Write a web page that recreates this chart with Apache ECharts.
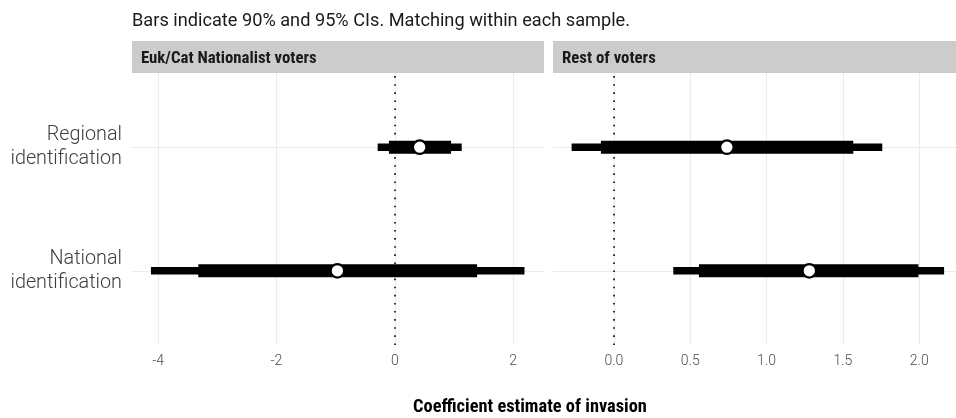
<!DOCTYPE html>
<html>
<head>
<meta charset="utf-8">
<script src="https://cdn.jsdelivr.net/npm/echarts@6/dist/echarts.min.js"></script>
<style>
html,body{margin:0;padding:0;background:#fff;}
#chart{width:956px;height:418px;}
</style>
</head>
<body>
<div id="chart"></div>
<script>
// ---- data ----
const categories = ['Regional\nidentification', 'National\nidentification'];
const panels = ['Euk/Cat Nationalist voters', 'Rest of voters'];
const subtitle = 'Bars indicate 90% and 95% CIs. Matching within each sample.';
const xTitle = 'Coefficient estimate of invasion';

// Panel 1: Euk/Cat Nationalist voters (order follows categories)
const natEst  = [0.42, -0.97];
const natLo90 = [-0.10, -3.32];
const natHi90 = [0.95, 1.39];
const natLo95 = [-0.29, -4.12];
const natHi95 = [1.13, 2.19];

// Panel 2: Rest of voters
const restEst  = [0.74, 1.28];
const restLo90 = [-0.085, 0.557];
const restHi90 = [1.568, 1.995];
const restLo95 = [-0.277, 0.389];
const restHi95 = [1.758, 2.163];

const leftTicks = [-4, -2, 0, 2];
const rightTicks = [0, 0.5, 1.0, 1.5, 2.0];

// ---- build ----
const NARROW = '"Liberation Sans Narrow", "Roboto Condensed", Roboto, sans-serif';
const BODY = 'Roboto, "Noto Sans", sans-serif';
const rowPos = categories.map((c, i) => categories.length - i); // 2 = top row, 1 = bottom row

function rangeData(lo, hi) {
  return lo.map((v, i) => [v, hi[i], rowPos[i]]);
}
function pointData(est) {
  return est.map((v, i) => [v, rowPos[i]]);
}
function rangeSeries(idx, data, thickness) {
  return {
    type: 'custom', xAxisIndex: idx, yAxisIndex: idx, data: data, z: 3,
    encode: { x: [0, 1], y: 2 },
    renderItem: function (params, api) {
      const p1 = api.coord([api.value(0), api.value(2)]);
      const p2 = api.coord([api.value(1), api.value(2)]);
      return {
        type: 'rect',
        shape: { x: p1[0], y: p1[1] - thickness / 2, width: p2[0] - p1[0], height: thickness },
        style: { fill: '#000' }
      };
    }
  };
}
function pointSeries(idx, data) {
  return {
    type: 'scatter', xAxisIndex: idx, yAxisIndex: idx, data: data, z: 5,
    symbol: 'circle', symbolSize: 13.5,
    itemStyle: { color: '#fff', borderColor: '#000', borderWidth: 2.2, opacity: 1 }
  };
}
function zeroLine(idx) {
  return {
    type: 'line', xAxisIndex: idx, yAxisIndex: idx, data: [], z: 2,
    markLine: {
      silent: true, symbol: 'none', animation: false, z: 2,
      label: { show: false },
      lineStyle: { color: '#000', width: 1.6, type: [1.6, 6.5], opacity: 1 },
      data: [{ xAxis: 0 }]
    }
  };
}
function rowLines(idx) {
  return {
    type: 'line', xAxisIndex: idx, yAxisIndex: idx, data: [], z: 1,
    markLine: {
      silent: true, symbol: 'none', animation: false, z: 1,
      label: { show: false },
      lineStyle: { color: '#ebebeb', width: 1.1, type: 'solid', opacity: 1 },
      data: rowPos.map(r => ({ yAxis: r }))
    }
  };
}

const xAxisCommon = {
  type: 'value',
  axisLine: { show: false },
  axisTick: { show: false },
  splitLine: { show: true, lineStyle: { color: '#ebebeb', width: 1.1 } },
  axisLabel: { color: '#4d4d4d', fontSize: 14, fontFamily: BODY, fontWeight: 300, margin: 9, hideOverlap: false }
};

const option = {
  animation: false,
  backgroundColor: '#fff',
  title: [
    { text: subtitle, left: 132, top: 12, padding: 0,
      textStyle: { fontFamily: BODY, fontSize: 18.2, fontWeight: 'normal', color: '#1a1a1a' } },
    { text: xTitle, left: 530, top: 398, padding: 0, textAlign: 'center',
      textStyle: { fontFamily: NARROW, fontSize: 18.4, fontWeight: 'bold', color: '#000' } }
  ],
  graphic: [
    { type: 'rect', left: 132, top: 41, shape: { width: 412, height: 32 }, style: { fill: '#cccccc' }, z: 0 },
    { type: 'rect', left: 553, top: 41, shape: { width: 403, height: 32 }, style: { fill: '#cccccc' }, z: 0 },
    { type: 'text', left: 141, top: 50, style: { text: panels[0], font: 'bold 16.8px ' + NARROW, fill: '#1a1a1a' }, z: 1 },
    { type: 'text', left: 562, top: 50, style: { text: panels[1], font: 'bold 16.8px ' + NARROW, fill: '#1a1a1a' }, z: 1 }
  ],
  grid: [
    { left: 132, width: 412, top: 73, height: 272 },
    { left: 553, right: 0, top: 73, height: 272 }
  ],
  xAxis: [
    Object.assign({}, xAxisCommon, {
      gridIndex: 0, min: -4.44, max: 2.52,
      axisLabel: Object.assign({}, xAxisCommon.axisLabel, { customValues: leftTicks, formatter: v => String(v) }),
      axisTick: { show: false, customValues: leftTicks }
    }),
    Object.assign({}, xAxisCommon, {
      gridIndex: 1, min: -0.399, max: 2.241,
      axisLabel: Object.assign({}, xAxisCommon.axisLabel, { customValues: rightTicks, formatter: v => v.toFixed(1) }),
      axisTick: { show: false, customValues: rightTicks }
    })
  ],
  yAxis: [
    { type: 'value', gridIndex: 0, min: 0.4, max: 2.6,
      axisLine: { show: false }, axisTick: { show: false, customValues: rowPos }, splitLine: { show: false },
      axisLabel: { customValues: rowPos, margin: 10, color: '#3d3d3d', fontSize: 19.8, lineHeight: 24,
        fontFamily: BODY, fontWeight: 300, align: 'right',
        formatter: v => categories[rowPos.indexOf(Math.round(v))] || '' } },
    { type: 'value', gridIndex: 1, min: 0.4, max: 2.6,
      axisLine: { show: false }, axisTick: { show: false }, splitLine: { show: false },
      axisLabel: { show: false } }
  ],
  series: [
    rowLines(0), rowLines(1),
    zeroLine(0), zeroLine(1),
    rangeSeries(0, rangeData(natLo95, natHi95), 7.5),
    rangeSeries(0, rangeData(natLo90, natHi90), 13),
    rangeSeries(1, rangeData(restLo95, restHi95), 7.5),
    rangeSeries(1, rangeData(restLo90, restHi90), 13),
    pointSeries(0, pointData(natEst)),
    pointSeries(1, pointData(restEst))
  ]
};

const chart = echarts.init(document.getElementById('chart'), null, { renderer: 'canvas' });
chart.setOption(option);
</script>
</body>
</html>
